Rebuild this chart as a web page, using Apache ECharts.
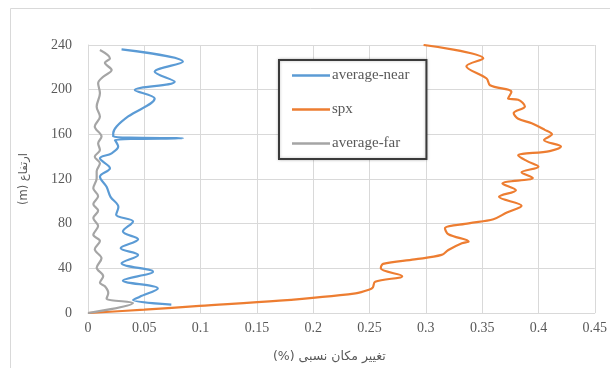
<!DOCTYPE html>
<html><head><meta charset="utf-8">
<script src="https://cdn.jsdelivr.net/npm/echarts@6/dist/echarts.min.js"></script>
<style>html,body{margin:0;padding:0;background:#fff}#c{width:610px;height:368px}</style>
</head><body><div id="c"></div>
<script>
// average-near: relative drift (x) vs height (y)
const nearX = [0.074,0.040,0.046,0.062,0.031,0.0577,0.0298,0.0445,0.029,0.0445,0.031,0.040,0.025,0.027,0.020,0.0165,0.0106,0.0195,0.0106,0.021,0.0268,0.0239,0.0843,0.0224,0.0224,0.0254,0.0357,0.0592,0.0416,0.077,0.0592,0.0843,0.0298];
const nearY = [7.5,11.6,14.6,22,29,37,44.5,52,58,66,73,82,88,95,104,113,122,129.6,138.5,143,149,155,156.4,158,161,167,176,192,199.7,207,216,225,236];
// spx
const spxX = [0,0.05,0.099,0.17,0.2376,0.25,0.253,0.255,0.279,0.26,0.262,0.29,0.314,0.32,0.332,0.338,0.32,0.317,0.338,0.36,0.372,0.385,0.365,0.38,0.368,0.395,0.385,0.40,0.39,0.382,0.41,0.42,0.405,0.412,0.4056,0.394,0.382,0.378,0.388,0.382,0.373,0.376,0.357,0.354,0.336,0.351,0.298];
const spxY = [0,3,6.3,11,17.6,21,23,28,33,40,44,48,52,56.4,62.4,64,70.5,75.8,80.3,84,90,96,104,110,116,121,126,131,136,141,145,149,155,160,164,170,174,179,185,191,192,198,204,210,221,228,240];
// average-far
const farX = [0,0.040,0.0165,0.018,0.015,0.0106,0.0135,0.0077,0.012,0.006,0.0106,0.0047,0.009,0.0047,0.009,0.0047,0.009,0.0047,0.0077,0.0077,0.0106,0.006,0.0106,0.009,0.012,0.006,0.0106,0.0077,0.0106,0.009,0.0135,0.021,0.015,0.0195,0.0106];
const farY = [0,9,13,18,24,27,33,40.5,49,57,64.5,70,78,85,91.6,97.6,104.6,111.7,120.6,127,134,140,146,152,158,167,175.8,184.8,196.8,205.7,211.6,217.6,224,228,235.5];

const seriesNames = ['average-near','spx','average-far'];
const xTitle = '(%) تغییر مکان نسبی';
const yTitle = '(m) ارتفاع';

function pairs(xs, ys){ return xs.map((x,i)=>[x, ys[i]]); }

const chart = echarts.init(document.getElementById('c'), null, {renderer:'canvas'});
const serif = "'Liberation Serif','Times New Roman',serif";
const colors = ['#5B9BD5','#ED7D31','#A5A5A5'];
const mk = (name, data, color) => ({
  name, type:'line', data, symbol:'none', smooth:0.35, showSymbol:false,
  lineStyle:{color, width:2.2}, itemStyle:{color}, animation:false
});
chart.setOption({
  animation:false,
  color: colors,
  graphic:[{type:'rect', shape:{x:10.5,y:8.5,width:640,height:400}, style:{fill:'none', stroke:'#D9D9D9', lineWidth:1}, silent:true}],
  grid:{left:88, right:13, top:45, bottom:55},
  legend:{
    orient:'vertical', left:279, top:60,
    padding:[8,17,8,13], itemGap:19, itemWidth:38, itemHeight:2.6, icon:'rect',
    borderColor:'#3a3a3a', borderWidth:2, backgroundColor:'#fff',
    shadowColor:'rgba(0,0,0,0.25)', shadowBlur:3,
    textStyle:{fontFamily:serif, fontSize:15, lineHeight:14, color:'#595959', padding:[0,0,0,-3]},
    data: seriesNames
  },
  xAxis:{
    type:'value', min:0, max:0.45, interval:0.05,
    axisLine:{show:true, lineStyle:{color:'#D9D9D9'}}, axisTick:{show:false},
    splitLine:{show:true, lineStyle:{color:'#D9D9D9'}},
    axisLabel:{fontFamily:serif, fontSize:14, color:'#595959', margin:8,
      formatter:v=>String(+v.toFixed(2))},
    name:xTitle, nameLocation:'middle', nameGap:37, nameTextStyle:{fontFamily:"'DejaVu Sans',sans-serif", fontSize:12.5, color:'#595959', padding:[0,24,0,0]}
  },
  yAxis:{
    type:'value', min:0, max:240, interval:40,
    axisLine:{show:true, lineStyle:{color:'#D9D9D9'}}, axisTick:{show:false},
    splitLine:{show:true, lineStyle:{color:'#D9D9D9'}},
    axisLabel:{fontFamily:serif, fontSize:14, color:'#595959', margin:16},
    name:yTitle, nameLocation:'middle', nameGap:58, nameRotate:90,
    nameTextStyle:{fontFamily:"'DejaVu Sans',sans-serif", fontSize:11.5, color:'#595959'}
  },
  series:[
    mk(seriesNames[0], pairs(nearX, nearY), colors[0]),
    mk(seriesNames[1], pairs(spxX, spxY), colors[1]),
    mk(seriesNames[2], pairs(farX, farY), colors[2])
  ]
});
</script></body></html>
